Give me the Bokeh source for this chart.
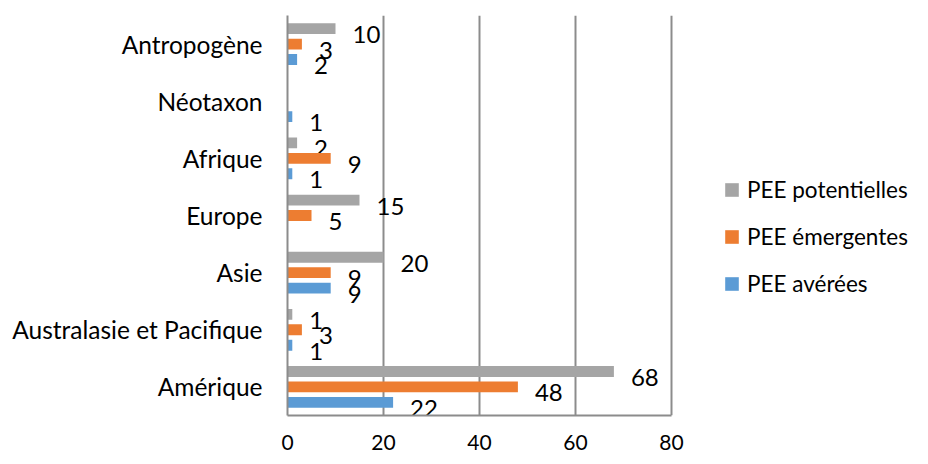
from bokeh.plotting import figure
from bokeh.models import FactorRange, Range1d, FixedTicker, ColumnDataSource, Legend, LegendItem
from bokeh.transform import dodge
from bokeh.core.properties import value
from bokeh.embed import file_html
from bokeh.resources import INLINE

categories = ["Amérique", "Australasie et Pacifique", "Asie", "Europe", "Afrique", "Néotaxon", "Antropogène"]
pee_averees = [22, 1, 9, 0, 1, 1, 2]
pee_emergentes = [48, 3, 9, 5, 9, 0, 3]
pee_potentielles = [68, 1, 20, 15, 2, 0, 10]
series_names = ["PEE potentielles", "PEE émergentes", "PEE avérées"]
x_ticks = [0, 20, 40, 60, 80]
x_max = 80

FONT = "Lato"
colors = {"PEE potentielles": "#A5A5A5", "PEE émergentes": "#ED7D31", "PEE avérées": "#5B9BD5"}
offsets = {"PEE potentielles": 0.27, "PEE émergentes": 0.0, "PEE avérées": -0.27}
values = {"PEE potentielles": pee_potentielles, "PEE émergentes": pee_emergentes, "PEE avérées": pee_averees}

FRAME_W = 625
PX_PER_UNIT = 384 / x_max
p = figure(frame_width=FRAME_W, frame_height=400, y_range=FactorRange(*categories),
           x_range=Range1d(0, FRAME_W / PX_PER_UNIT),
           output_backend="svg", toolbar_location=None)
p.min_border_left = 287
p.min_border_right = 0
p.min_border_top = 15
p.min_border_bottom = 41
p.outline_line_color = None
p.background_fill_color = "white"
p.border_fill_color = "white"

renderers = {}
for name in series_names:
    vals = values[name]
    src = ColumnDataSource(dict(cat=categories, v=vals))
    r = p.hbar(y=dodge("cat", offsets[name], range=p.y_range), right="v", left=0, height=0.19,
               source=src, fill_color=colors[name], line_color=None)
    renderers[name] = r
    lab = [(c, v, str(v)) for c, v in zip(categories, vals) if v != 0]
    lsrc = ColumnDataSource(dict(cat=[a for a, _, _ in lab], v=[b for _, b, _ in lab], t=[t for _, _, t in lab]))
    p.text(x="v", y=dodge("cat", offsets[name], range=p.y_range), text="t", source=lsrc,
           x_offset=17, y_offset=6, text_baseline="middle", text_align="left",
           text_font=value(FONT), text_font_size="24px", text_color="#000000")

p.ygrid.grid_line_color = None
p.xgrid.grid_line_color = "#8C8C8C"
p.xgrid.grid_line_width = 2
p.xaxis.ticker = FixedTicker(ticks=x_ticks)
p.xaxis.bounds = (0, x_max)
p.xaxis.axis_line_color = "#8C8C8C"
p.xaxis.axis_line_width = 2
p.xaxis.major_tick_line_color = None
p.xaxis.minor_tick_line_color = None
p.xaxis.major_label_text_font = FONT
p.xaxis.major_label_text_font_size = "21px"
p.xaxis.major_label_text_color = "#000000"
p.xaxis.major_label_standoff = 13

p.yaxis.axis_line_color = "#8C8C8C"
p.yaxis.axis_line_width = 2
p.yaxis.major_tick_line_color = None
p.yaxis.minor_tick_line_color = None
p.yaxis.major_label_text_font = FONT
p.yaxis.major_label_text_font_size = "24.5px"
p.yaxis.major_label_text_color = "#000000"
p.yaxis.major_label_standoff = 19

legend = Legend(items=[LegendItem(label=n, renderers=[renderers[n]]) for n in series_names],
                location=(436, 118), label_text_font=FONT, label_text_font_size="22.5px",
                label_text_color="#000000", glyph_width=17, glyph_height=17,
                label_standoff=7, spacing=20, border_line_color=None, background_fill_alpha=0)
p.add_layout(legend, "center")

open("out.html", "w").write(file_html(p, INLINE))
